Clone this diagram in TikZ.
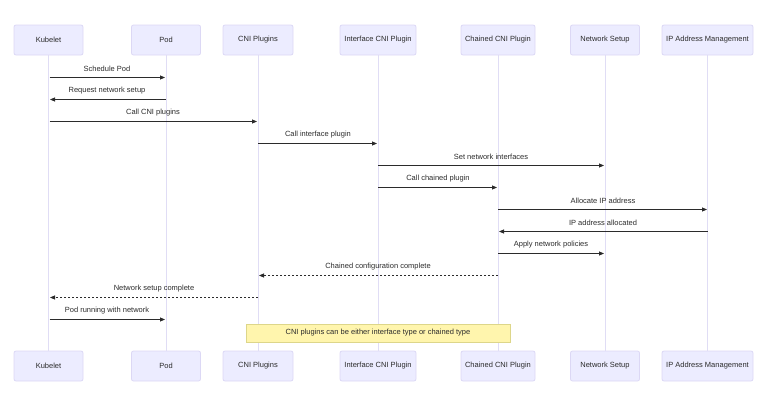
\documentclass[tikz,border=0pt]{standalone}
\usepackage{fontspec}
\setmainfont{Liberation Sans}
\usetikzlibrary{arrows.meta}
\definecolor{actfill}{HTML}{ECECFF}
\definecolor{actborder}{HTML}{DCD8F5}
\definecolor{lifecol}{HTML}{E0DDF5}
\definecolor{txt}{HTML}{2B2B2B}
\definecolor{notefill}{HTML}{FFF5AD}
\definecolor{noteborder}{HTML}{DDD68A}
\tikzset{
  actor/.style={draw=actborder, fill=actfill, line width=0.8pt, rounded corners=2pt,
    minimum height=30pt, inner sep=0pt, font=\fontsize{7.5}{9}\selectfont, text=txt},
  life/.style={draw=lifecol, line width=1pt},
  msg/.style={draw=txt, line width=0.8pt, -{Triangle[length=5pt,width=4pt]}},
  reply/.style={msg, dash pattern=on 2pt off 2pt},
  lbl/.style={font=\fontsize{7.5}{9}\selectfont, text=txt, inner sep=0pt},
  notebox/.style={draw=noteborder, fill=notefill, line width=0.8pt, inner sep=0pt,
    font=\fontsize{7.5}{9}\selectfont, text=txt}
}
\begin{document}
\begin{tikzpicture}[x=1pt,y=-1pt]
\useasboundingbox (0,0) rectangle (774,400);
% actors top
\node[actor, minimum width=69pt] (kt) at (48.5,40) {Kubelet};
\node[actor, minimum width=69pt] (pt) at (166,40) {Pod};
\node[actor, minimum width=70pt] (ct) at (258,40) {CNI Plugins};
\node[actor, minimum width=76pt] (it) at (378,40) {Interface CNI Plugin};
\node[actor, minimum width=74pt] (cht) at (498,40) {Chained CNI Plugin};
\node[actor, minimum width=69pt] (nt) at (605,40) {Network Setup};
\node[actor, minimum width=91pt] (ipt) at (707.5,40) {IP Address Management};
% actors bottom
\node[actor, minimum width=69pt] (kb) at (48.5,366) {Kubelet};
\node[actor, minimum width=69pt] (pb) at (166,366) {Pod};
\node[actor, minimum width=70pt] (cb) at (258,366) {CNI Plugins};
\node[actor, minimum width=76pt] (ib) at (378,366) {Interface CNI Plugin};
\node[actor, minimum width=74pt] (chb) at (498,366) {Chained CNI Plugin};
\node[actor, minimum width=69pt] (nb) at (605,366) {Network Setup};
\node[actor, minimum width=91pt] (ipb) at (707.5,366) {IP Address Management};
% lifelines
\draw[life] (kt.south) -- (kb.north);
\draw[life] (pt.south) -- (pb.north);
\draw[life] (ct.south) -- (cb.north);
\draw[life] (it.south) -- (ib.north);
\draw[life] (cht.south) -- (chb.north);
\draw[life] (nt.south) -- (nb.north);
\draw[life] (ipt.south) -- (ipb.north);
% messages
\coordinate (k1) at (49.5,77.5); \coordinate (p1) at (165,77.5);
\draw[msg] (k1) -- (p1);
\node[lbl] (l1) at (107,69) {Schedule Pod};
\coordinate (p2) at (166,99.5); \coordinate (k2) at (50,99.5);
\draw[msg] (p2) -- (k2);
\node[lbl] (l2) at (107,91) {Request network setup};
\coordinate (k3) at (49.5,121.5); \coordinate (c3) at (257,121.5);
\draw[msg] (k3) -- (c3);
\node[lbl] (l3) at (153,113) {Call CNI plugins};
\coordinate (c4) at (258,143.5); \coordinate (i4) at (377,143.5);
\draw[msg] (c4) -- (i4);
\node[lbl] (l4) at (318,135) {Call interface plugin};
\coordinate (i5) at (378,165.5); \coordinate (n5) at (604,165.5);
\draw[msg] (i5) -- (n5);
\node[lbl] (l5) at (491,157) {Set network interfaces};
\coordinate (i6) at (378,187.5); \coordinate (ch6) at (497,187.5);
\draw[msg] (i6) -- (ch6);
\node[lbl] (l6) at (438,179) {Call chained plugin};
\coordinate (ch7) at (498,209.5); \coordinate (ip7) at (707,209.5);
\draw[msg] (ch7) -- (ip7);
\node[lbl] (l7) at (603,201) {Allocate IP address};
\coordinate (ip8) at (707.5,231.5); \coordinate (ch8) at (499,231.5);
\draw[msg] (ip8) -- (ch8);
\node[lbl] (l8) at (603,223) {IP address allocated};
\coordinate (ch9) at (498,253.5); \coordinate (n9) at (604,253.5);
\draw[msg] (ch9) -- (n9);
\node[lbl] (l9) at (551,245) {Apply network policies};
\coordinate (ch10) at (498,275.5); \coordinate (c10) at (259,275.5);
\draw[reply] (ch10) -- (c10);
\node[lbl] (l10) at (378,267) {Chained configuration complete};
\coordinate (c11) at (258,297.5); \coordinate (k11) at (50,297.5);
\draw[reply] (c11) -- (k11);
\node[lbl] (l11) at (154,289) {Network setup complete};
\coordinate (k12) at (49.5,319.5); \coordinate (p12) at (165,319.5);
\draw[msg] (k12) -- (p12);
\node[lbl] (l12) at (107,311) {Pod running with network};
% note
\node[notebox, minimum width=264pt, minimum height=18pt] (note) at (378,333) {CNI plugins can be either interface type or chained type};
\end{tikzpicture}
\end{document}
